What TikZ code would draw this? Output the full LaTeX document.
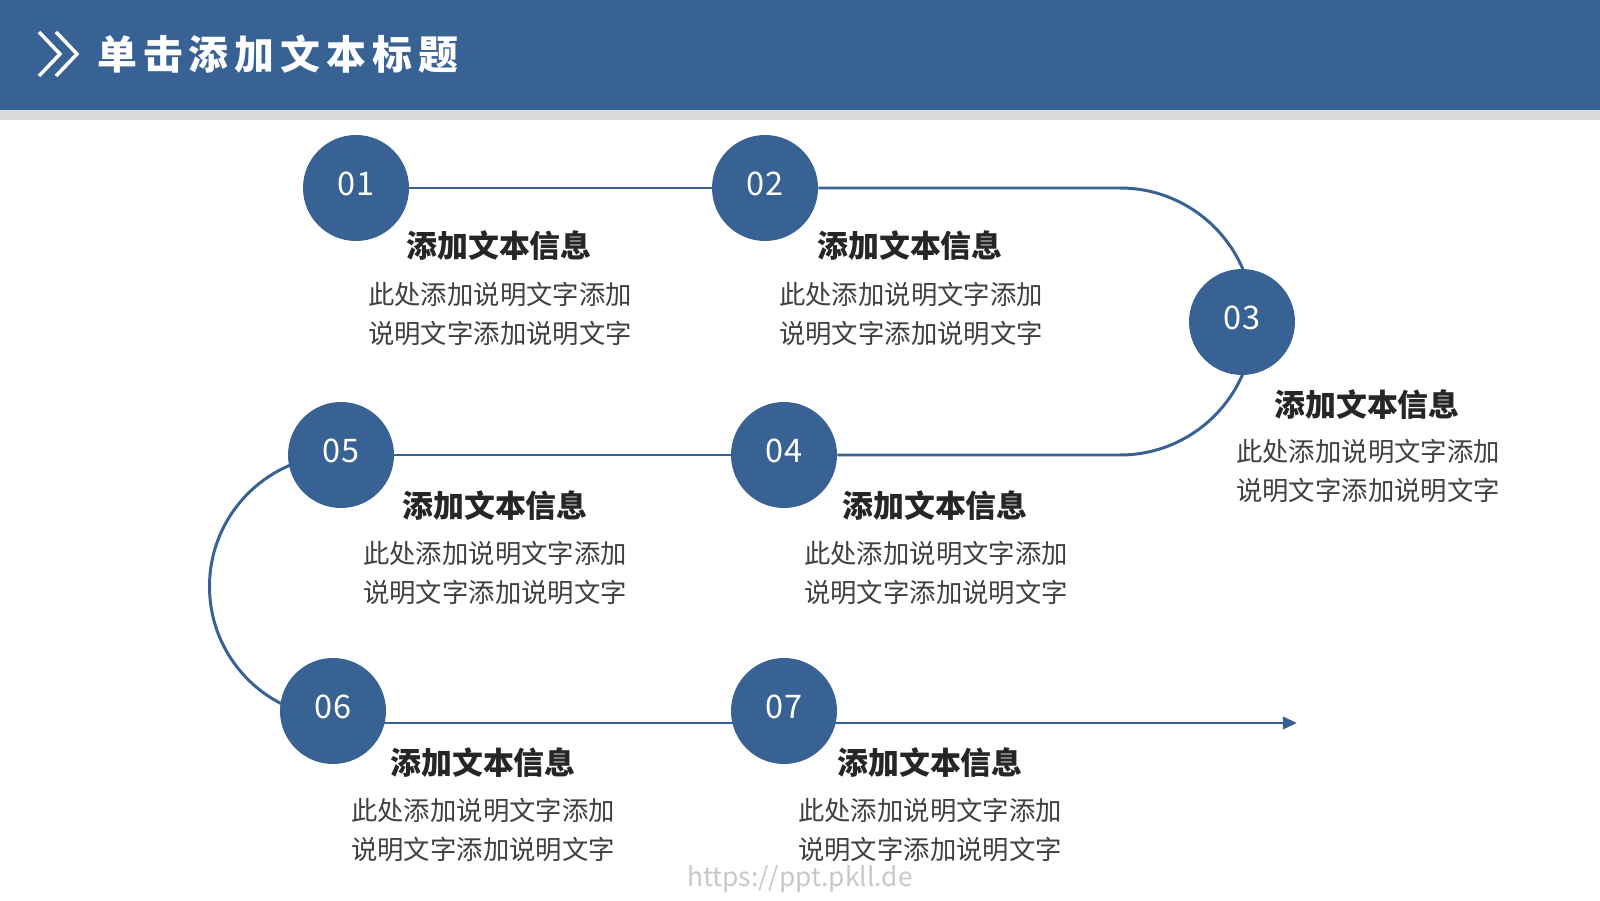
\documentclass[tikz,border=0pt]{standalone}
\usepackage{fontspec}
\setmainfont{Noto Sans CJK SC}
\usetikzlibrary{arrows.meta, positioning, backgrounds}
\definecolor{deepblue}{RGB}{56,97,148}
\definecolor{stripgray}{RGB}{217,217,217}
\definecolor{titlegray}{RGB}{38,38,38}
\definecolor{textgray}{RGB}{64,64,64}
\definecolor{markgray}{RGB}{200,200,200}

\begin{document}
\begin{tikzpicture}[x=0.02cm, y=0.02cm,
    stepdot/.style={circle, fill=deepblue, minimum size=2.12cm, inner sep=0pt, text depth=4.5pt, text=white, font=\fontsize{18.5}{20}\selectfont},
    steptitle/.style={text=titlegray, font=\fontsize{17.6}{21}\selectfont\bfseries},
    stepbody/.style={align=center, text=textgray, font=\fontsize{15}{22.1}\selectfont},
    flow/.style={deepblue, line width=1.7pt},
]
    \useasboundingbox (0,0) rectangle (1600,900);

    % Kopfzeile
    \fill[deepblue] (0,790) rectangle (1600,900);
    \fill[stripgray] (0,780) rectangle (1600,790);
    \draw[white, line width=2pt] (39,868) -- (60,846) -- (39,824);
    \draw[white, line width=2pt] (56,868) -- (77,846) -- (56,824);
    \node[anchor=west, text=white, font=\fontsize{22.7}{26}\selectfont\bfseries\addfontfeatures{LetterSpace=15}] (head) at (91,846) {单击添加文本标题};

    % Stufen
    \node[stepdot] (c01) at (356,712) {01};
    \node[steptitle] (t01) at (499,654) {添加文本信息};
    \node[stepbody] (b01) at (500,586) {此处添加说明文字添加\\说明文字添加说明文字};

    \node[stepdot] (c02) at (765,712) {02};
    \node[steptitle] (t02) at (910,654) {添加文本信息};
    \node[stepbody] (b02) at (911,586) {此处添加说明文字添加\\说明文字添加说明文字};

    \node[stepdot] (c03) at (1242,578) {03};
    \node[steptitle] (t03) at (1367,495) {添加文本信息};
    \node[stepbody] (b03) at (1368,429) {此处添加说明文字添加\\说明文字添加说明文字};

    \node[stepdot] (c04) at (784,445) {04};
    \node[steptitle] (t04) at (935,394) {添加文本信息};
    \node[stepbody] (b04) at (936,327) {此处添加说明文字添加\\说明文字添加说明文字};

    \node[stepdot] (c05) at (341,445) {05};
    \node[steptitle] (t05) at (495,394) {添加文本信息};
    \node[stepbody] (b05) at (495,327) {此处添加说明文字添加\\说明文字添加说明文字};

    \node[stepdot] (c06) at (333,189) {06};
    \node[steptitle] (t06) at (483,137) {添加文本信息};
    \node[stepbody] (b06) at (483,70) {此处添加说明文字添加\\说明文字添加说明文字};

    \node[stepdot] (c07) at (784,189) {07};
    \node[steptitle] (t07) at (930,137) {添加文本信息};
    \node[stepbody] (b07) at (930,70) {此处添加说明文字添加\\说明文字添加说明文字};

    % Verbindungslinie hinter den Kreisen
    \begin{scope}[on background layer]
        \coordinate (rturn) at (1120,712);
        \coordinate (tip) at (1297,177);
        \draw[flow] (c01) -- (c02);
        \draw[flow] (c02) -- (rturn) arc[start angle=90, end angle=-90, radius=133.5] -- (c04);
        \draw[flow] (c04) -- (c05);
        \draw[flow] (c05.center) arc[start angle=90, end angle=270, radius=131.5];
        \draw[flow, -{Triangle[length=8pt, width=7pt]}] (c06.center |- tip) -- (tip);
    \end{scope}

    \node[text=markgray, font=\fontsize{15}{18}\selectfont] (mark) at (800,21) {https://ppt.pkll.de};
\end{tikzpicture}
\end{document}
